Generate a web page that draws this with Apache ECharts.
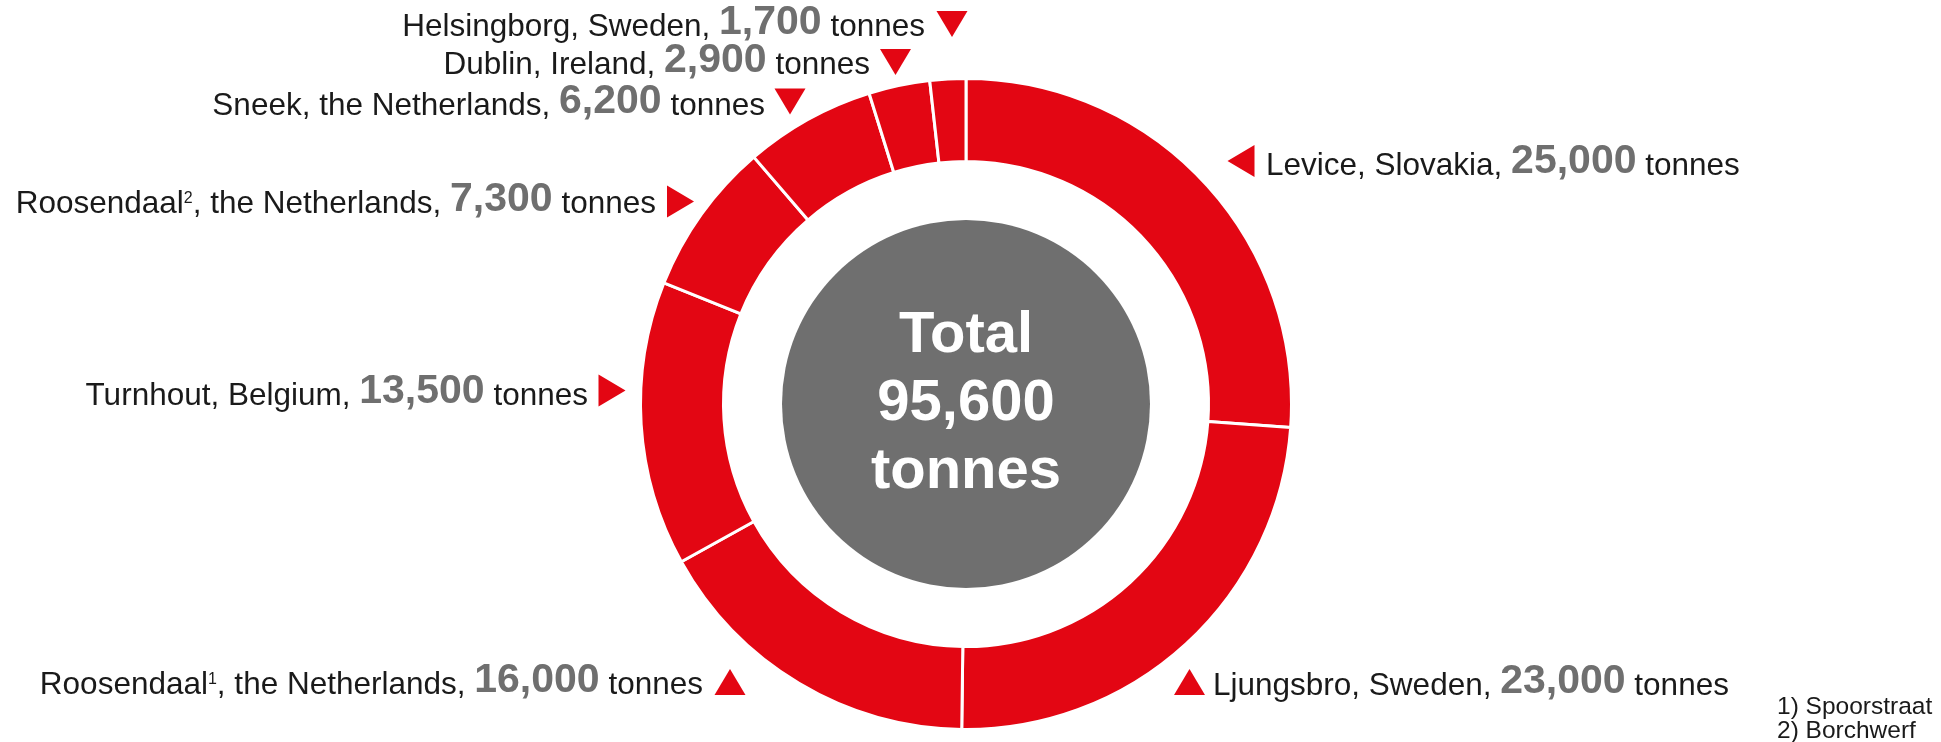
<!DOCTYPE html>
<html>
<head>
<meta charset="utf-8">
<script src="https://cdn.jsdelivr.net/npm/echarts@6/dist/echarts.min.js"></script>
<style>
  html, body { margin: 0; padding: 0; background: #fff; }
  #chart { width: 1941px; height: 742px; }
</style>
</head>
<body>
<div id="chart"></div>
<script>
// Production sites and their output in tonnes (clockwise from 12 o'clock)
const sites     = ['Levice', 'Ljungsbro', 'Roosendaal', 'Turnhout', 'Roosendaal', 'Sneek', 'Dublin', 'Helsingborg'];
const notes     = ['', '', '1', '', '2', '', '', ''];
const countries = ['Slovakia', 'Sweden', 'the Netherlands', 'Belgium', 'the Netherlands', 'the Netherlands', 'Ireland', 'Sweden'];
const tonnes    = [25000, 23000, 16000, 13500, 7300, 6200, 2900, 1700];
const footnotes = ['1) Spoorstraat', '2) Borchwerf'];

// Callout placement: pointer triangle centre and direction, text anchor and baseline
const callouts = [
  { tx: 1241,  ty: 161,   dir: 'left',  x: 1266, base: 175, side: 'left'  },
  { tx: 1189.5,ty: 682,   dir: 'up',    x: 1213, base: 695, side: 'left'  },
  { tx: 730,   ty: 682,   dir: 'up',    x: 703,  base: 694, side: 'right' },
  { tx: 612,   ty: 390.5, dir: 'right', x: 588,  base: 405, side: 'right' },
  { tx: 680.5, ty: 201.5, dir: 'right', x: 656,  base: 213, side: 'right' },
  { tx: 790,   ty: 101.5, dir: 'down',  x: 765,  base: 115, side: 'right' },
  { tx: 895.5, ty: 62,    dir: 'down',  x: 870,  base: 74,  side: 'right' },
  { tx: 952,   ty: 24,    dir: 'down',  x: 925,  base: 36,  side: 'right' }
];

const RED = '#e30613';
const GREY = '#6f6f6f';
const INK = '#1a1a1a';
const FONT = '"Liberation Sans", Arial, Helvetica, sans-serif';
const CENTER = [966, 404];

const fmt = v => v.toLocaleString('en-US');
const total = tonnes.reduce((a, b) => a + b, 0);

const data = sites.map((s, i) => ({ name: s, value: tonnes[i] }));

function labelText(p) {
  const i = p.dataIndex;
  const sup = notes[i] ? `{s|${notes[i]}}` : '';
  return `{t|${sites[i]}}${sup}{t|, ${countries[i]}, }{v|${fmt(p.value)}}{t| tonnes}`;
}

function triangle(c) {
  const { tx: x, ty: y, dir } = c;
  const hw = 15.5, hh = 13;      // pointing up / down
  const vw = 13.5, vh = 16;      // pointing left / right
  switch (dir) {
    case 'up':    return [[x - hw, y + hh], [x + hw, y + hh], [x, y - hh]];
    case 'down':  return [[x - hw, y - hh], [x + hw, y - hh], [x, y + hh]];
    case 'left':  return [[x + vw, y - vh], [x + vw, y + vh], [x - vw, y]];
    default:      return [[x - vw, y - vh], [x - vw, y + vh], [x + vw, y]];
  }
}

const chart = echarts.init(document.getElementById('chart'), null, { renderer: 'canvas' });

chart.setOption({
  backgroundColor: '#fff',
  animation: false,
  textStyle: { fontFamily: FONT },
  series: [
    {
      type: 'pie',
      center: CENTER,
      radius: [242.5, 325.5],
      startAngle: 90,
      clockwise: true,
      avoidLabelOverlap: false,
      silent: true,
      itemStyle: { color: RED, borderColor: '#fff', borderWidth: 3 },
      label: {
        show: true,
        position: 'outside',
        fontFamily: FONT,
        formatter: labelText,
        rich: {
          t: { fontSize: 31.5, lineHeight: 32, color: INK, fontFamily: FONT, verticalAlign: 'bottom' },
          s: { fontSize: 16, lineHeight: 16, color: INK, fontFamily: FONT, verticalAlign: 'bottom', padding: [0, 0, 13, 0] },
          v: { fontSize: 41, lineHeight: 41, color: GREY, fontWeight: 'bold', fontFamily: FONT, verticalAlign: 'bottom' }
        }
      },
      labelLine: { show: false },
      labelLayout: p => {
        const c = callouts[p.dataIndex];
        return { x: c.x, y: c.base + 7, align: c.side, verticalAlign: 'bottom' };
      },
      data: data
    },
    {
      type: 'pie',
      center: CENTER,
      radius: [0, 184],
      silent: true,
      itemStyle: { color: GREY },
      label: {
        show: true,
        position: 'center',
        formatter: () => `Total\n${fmt(total)}\ntonnes`,
        color: '#fff',
        fontFamily: FONT,
        fontWeight: 'bold',
        fontSize: 58,
        lineHeight: 68
      },
      labelLine: { show: false },
      data: [{ name: 'Total', value: total }]
    }
  ],
  graphic: [
    ...callouts.map(c => ({
      type: 'polygon',
      silent: true,
      shape: { points: triangle(c) },
      style: { fill: RED }
    })),
    {
      type: 'text',
      left: 1777,
      top: 695,
      silent: true,
      style: {
        text: footnotes.join('\n'),
        font: '24.5px ' + FONT,
        lineHeight: 24,
        fill: INK
      }
    }
  ]
});
</script>
</body>
</html>
